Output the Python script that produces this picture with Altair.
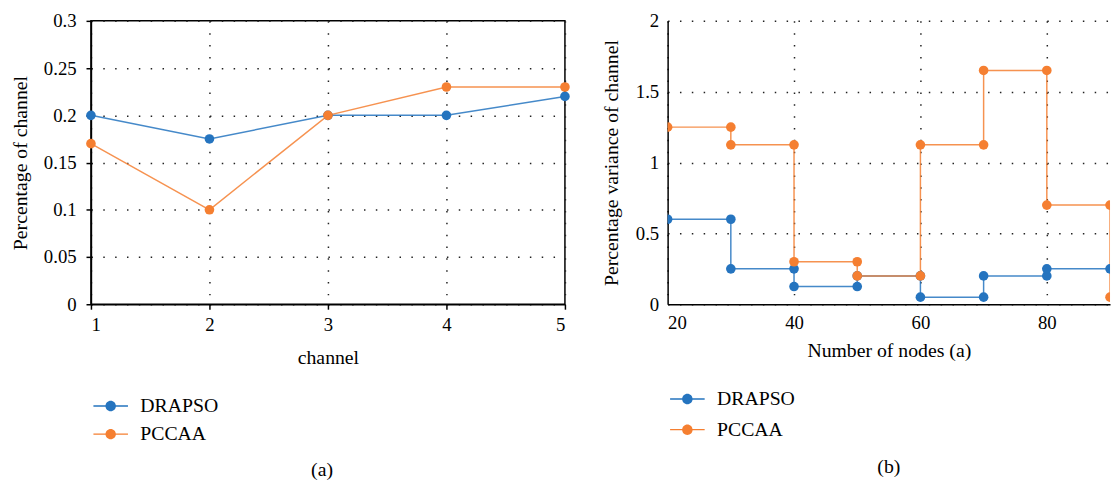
import altair as alt
import pandas as pd

# ---------------- data ----------------
series_names = ["DRAPSO", "PCCAA"]
series_colors = ["#2574bf", "#f57f31"]

# panel (a)
channels = [1, 2, 3, 4, 5]
drapso_a = [0.2, 0.175, 0.2, 0.2, 0.22]
pccaa_a = [0.17, 0.1, 0.2, 0.23, 0.23]

# panel (b) - stair-step series (vertex list)
nodes_drapso = [20, 30, 30, 40, 40, 50, 50, 60, 60, 70, 70, 80, 80, 90]
drapso_b = [0.6, 0.6, 0.25, 0.25, 0.125, 0.125, 0.2, 0.2, 0.05, 0.05, 0.2, 0.2, 0.25, 0.25]
nodes_pccaa = [20, 30, 30, 40, 40, 50, 50, 60, 60, 70, 70, 80, 80, 90, 90]
pccaa_b = [1.25, 1.25, 1.125, 1.125, 0.3, 0.3, 0.2, 0.2, 1.125, 1.125, 1.65, 1.65, 0.7, 0.7, 0.05]

a_x_ticks = [1, 2, 3, 4, 5]
a_y_ticks = [0, 0.05, 0.1, 0.15, 0.2, 0.25, 0.3]
b_x_ticks = [20, 40, 60, 80]
b_y_ticks = [0, 0.5, 1, 1.5, 2]

df_a = pd.DataFrame({
    "x": channels + channels,
    "value": drapso_a + pccaa_a,
    "series": [series_names[0]] * len(drapso_a) + [series_names[1]] * len(pccaa_a),
    "order": list(range(len(drapso_a))) + list(range(len(pccaa_a))),
})
df_b = pd.DataFrame({
    "x": nodes_drapso + nodes_pccaa,
    "value": drapso_b + pccaa_b,
    "series": [series_names[0]] * len(drapso_b) + [series_names[1]] * len(pccaa_b),
    "order": list(range(len(drapso_b))) + list(range(len(pccaa_b))),
})

FONT = "Liberation Serif"
color_scale = alt.Scale(domain=series_names, range=series_colors)
# legend glyph: thin filled bar (the line) + filled circle (the marker)
LEGEND_PATH = ("M-1.75,-0.07L1.75,-0.07L1.75,0.07L-1.75,0.07Z"
               "M0.53,0A0.53,0.53,0,1,1,-0.53,0A0.53,0.53,0,1,1,0.53,0Z")


def make_legend(lx, ly, rowpad):
    return alt.Legend(title=None, orient="none", legendX=lx, legendY=ly,
                      direction="vertical", symbolType=LEGEND_PATH,
                      symbolSize=400, symbolStrokeWidth=0, symbolOpacity=1,
                      labelFont=FONT, labelFontSize=20, labelColor="black",
                      labelOffset=20, rowPadding=rowpad, padding=0)


def panel(df, xdomain, xvalues, xtitle, ydomain, yvalues, ytitle, width, height,
          lx, ly, rowpad, caption, ticks, clip, ylabpad, xlabpad, ytitlepad,
          xtitlepad, view_stroke, cap_dx, cap_offset):
    tick_size = 5 if ticks else 0
    x = alt.X("x:Q",
              scale=alt.Scale(domain=xdomain, nice=False, zero=False),
              axis=alt.Axis(values=xvalues, format="d", title=xtitle, grid=True,
                            ticks=ticks, tickSize=tick_size,
                            labelPadding=xlabpad, titlePadding=xtitlepad))
    y = alt.Y("value:Q",
              scale=alt.Scale(domain=ydomain, nice=False, zero=True),
              axis=alt.Axis(values=yvalues, format="~g", title=ytitle, grid=True,
                            ticks=ticks, tickSize=tick_size,
                            labelPadding=ylabpad, titlePadding=ytitlepad))
    base = alt.Chart(df)
    line = base.mark_line(strokeWidth=1.5, opacity=0.85, clip=clip).encode(
        x=x, y=y,
        color=alt.Color("series:N", scale=color_scale,
                        legend=make_legend(lx, ly, rowpad)),
        order="order:Q",
    )
    pts = base.mark_circle(size=95, opacity=1, clip=clip).encode(
        x=x, y=y,
        color=alt.Color("series:N", scale=color_scale,
                        legend=make_legend(lx, ly, rowpad)),
    )
    return alt.layer(line, pts).properties(
        width=width, height=height,
        view=alt.ViewBackground(stroke=view_stroke, strokeWidth=1.5),
        title=alt.Title(caption, orient="bottom", font=FONT, fontSize=20,
                        fontWeight="normal", color="black", anchor="middle",
                        offset=cap_offset, dx=cap_dx),
    )


left = panel(df_a, [1, 5], a_x_ticks, "channel", [0, 0.3], a_y_ticks,
             "Percentage of channel", 480, 287, 10, 380, 8.5, "(a)", True, False,
             10, 7, 13, 13, "black", -6, 16)
right = panel(df_b, [20, 90], b_x_ticks, "Number of nodes (a)", [0, 2], b_y_ticks,
              "Percentage variance of channel", 448, 287, 10, 373, 11, "(b)", False,
              True, 9, 10, 14, 8, "transparent", 0, 18)

chart = alt.hconcat(left, right, spacing=30).resolve_scale(
    color="independent"
).resolve_legend(
    color="independent"
).properties(
    padding={"left": 2, "top": 0, "right": 0, "bottom": 0}
).configure(
    font=FONT
).configure_axis(
    labelFont=FONT, titleFont=FONT, labelFontSize=19, titleFontSize=20,
    titleFontWeight="normal", labelColor="black", titleColor="black",
    domainColor="black", domainWidth=1.5, tickColor="black", tickWidth=1.5,
    gridColor="#222222", gridDash=[1.5, 10.5], gridWidth=1.5, gridOpacity=1,
).configure_legend(
    labelFont=FONT, labelFontSize=20, labelColor="black"
).configure_view(stroke="transparent")

chart.save("out.html", embed_options={"renderer": "svg", "actions": False})
